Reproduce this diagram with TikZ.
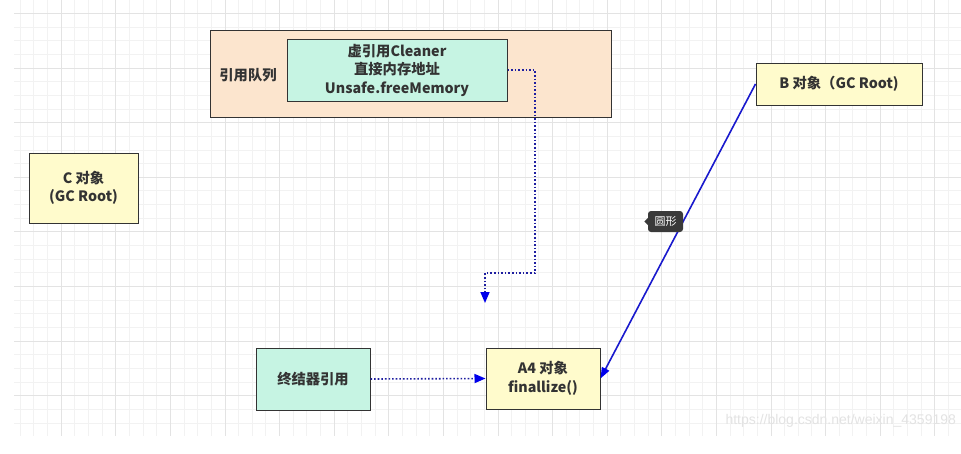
\documentclass[tikz,border=0pt]{standalone}
\usepackage{fontspec}
\newfontfamily\cjk{Noto Sans CJK SC}
\newfontfamily\markfont{Liberation Sans}
\usetikzlibrary{positioning,arrows.meta}

\definecolor{queuepeach}{RGB}{252,229,206}
\definecolor{refmint}{RGB}{198,244,227}
\definecolor{objyellow}{RGB}{255,251,204}
\definecolor{dotnavy}{RGB}{30,30,160}
\definecolor{tipblue}{RGB}{0,0,235}
\definecolor{gcblue}{RGB}{25,25,205}
\definecolor{tipgray}{RGB}{58,58,58}

\begin{document}
\begin{tikzpicture}[
        x=1pt, y=-1pt,
        every node/.style={font=\cjk\bfseries\fontsize{14.3}{18.5}\selectfont, text=black!80},
        box/.style={draw=black!80, line width=1pt, align=center, inner sep=0pt},
        yellowbox/.style={box, fill=objyellow},
        mintbox/.style={box, fill=refmint},
        minorgrid/.style={draw=black!5, line width=0.6pt},
        majorgrid/.style={draw=black!11, line width=0.6pt},
        refline/.style={dotted, line width=1.6pt, draw=dotnavy, -{Triangle[length=11pt,width=9pt,color=tipblue]}},
        gcline/.style={line width=1.6pt, draw=gcblue, -{Triangle[length=11pt,width=8pt,color=tipblue]}},
        tip/.style={fill=tipgray, rounded corners=3pt, text=white, inner sep=0pt,
            minimum width=35pt, minimum height=21pt, font=\cjk\fontsize{11}{12}\selectfont}
    ]
    \clip (0,0) rectangle (961,453);
    \fill[white] (0,0) rectangle (961,453);

    % grid
    \foreach \i in {0,...,68}
        \draw[minorgrid] ({20.05+13.65*\i},0) -- ++(0,436);
    \foreach \i in {0,...,30}
        \draw[minorgrid] (14,{13.3+13.65*\i}) -- (961,{13.3+13.65*\i});
    \foreach \i in {1,...,17}
        \draw[majorgrid] ({6.4+54.6*\i},0) -- ++(0,436);
    \foreach \i in {0,...,7}
        \draw[majorgrid] (14,{13.3+54.6*\i}) -- (961,{13.3+54.6*\i});

    % boxes
    \node[box, fill=queuepeach, minimum width=401pt, minimum height=87pt] (queue) at (410.5,73.5) {};
    \node (qlabel) at (248,75) {引用队列};
    \node[mintbox, minimum width=220pt, minimum height=62pt] (cleaner) at (397,70) {虚引用Cleaner\\直接内存地址\\Unsafe.freeMemory};
    \node[yellowbox, minimum width=166pt, minimum height=42pt] (B) at (839,84) {B 对象（GC Root)};
    \node[yellowbox, minimum width=109pt, minimum height=70pt] (C) at (83.5,188) {C 对象\\(GC Root)};
    \node[mintbox, minimum width=114pt, minimum height=62pt] (final) at (313,379) {终结器引用};
    \node[yellowbox, minimum width=114pt, minimum height=61pt] (A4) at (543,378.5) {A4 对象\\finallize()};

    % connectors
    \coordinate (qturn) at (535,273);
    \coordinate (qend) at (485,303);
    \draw[refline] (cleaner.east) -| (qturn) -| (qend);
    \draw[refline] (final.east) -- (A4.west);
    \draw[gcline] (B.west) -- (A4.east);

    % tooltip and watermark
    \node[tip] (tooltip) at (665.5,221.5) {圆形};
    \fill[tipgray] (tooltip.west) ++(0.5,-4) -- ++(-4,4) -- ++(4,4) -- cycle;
    \node[anchor=west, text=black!11, font=\markfont\fontsize{14}{16}\selectfont] (mark) at (722,421) {https://blog.csdn.net/weixin\_4359198};
\end{tikzpicture}
\end{document}
